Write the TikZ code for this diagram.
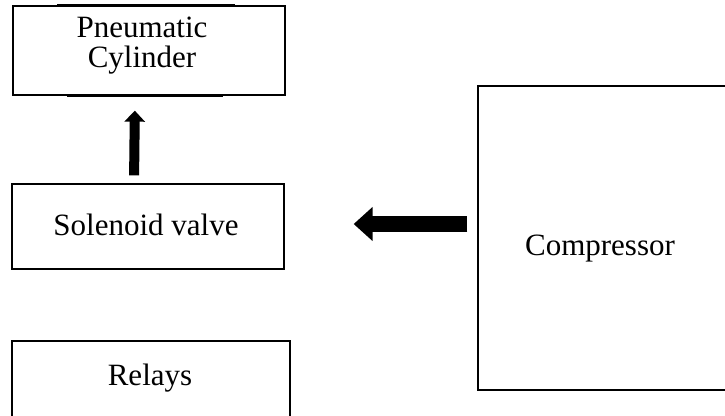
\documentclass[tikz,border=0pt]{standalone}
\usepackage{fontspec}
\setmainfont{Liberation Serif}
\usetikzlibrary{arrows.meta,positioning}

\tikzset{
  block/.style={draw, line width=1.3pt, inner sep=0pt},
  blocktext/.style={inner sep=0pt, font=\fontsize{31}{30}\selectfont, align=center},
  smallflow/.style={line width=10pt, -{Triangle[length=11pt, width=20pt]}},
  bigflow/.style={line width=16pt, -{Triangle[length=19pt, width=33pt]}}
}

\begin{document}
\begin{tikzpicture}[x=1pt, y=-1pt]

  \useasboundingbox (0,0) rectangle (725,415);
  \clip (0,0) rectangle (725,415);

  % Boxes
  \node[block, minimum width=272, minimum height=89] (cyl) at (149,50.5) {};
  \node[block, minimum width=272, minimum height=85] (valve) at (148,226.5) {};
  \node[block, minimum width=278, minimum height=99] (relay) at (151,390.5) {};
  \node[block, minimum width=252, minimum height=304] (comp) at (604,238) {};

  % Heavier strokes on the cylinder box
  \draw[line width=3pt] ([xshift=45pt]cyl.north west) -- ++(178,0);
  \draw[line width=3pt] ([xshift=55pt]cyl.south west) -- ++(156,0);

  % Labels
  \node[blocktext] (cyltext) at (142,45.5) {Pneumatic\\Cylinder};
  \node[blocktext, anchor=base] (valvetext) at (146,235) {Solenoid valve};
  \node[blocktext, anchor=base] (relaytext) at (150,385) {Relays};
  \node[blocktext, anchor=base] (comptext) at (600,255) {Compressor};

  % Arrows
  \draw[smallflow, shorten <=8pt, shorten >=15pt]
    ([xshift=-14pt]valve.north) -- ([xshift=-14pt]cyl.south);
  \draw[bigflow, shorten <=10pt, shorten >=69pt]
    ([yshift=14pt]comp.west) -- ([yshift=14pt]comp.west -| valve.east);

\end{tikzpicture}
\end{document}
